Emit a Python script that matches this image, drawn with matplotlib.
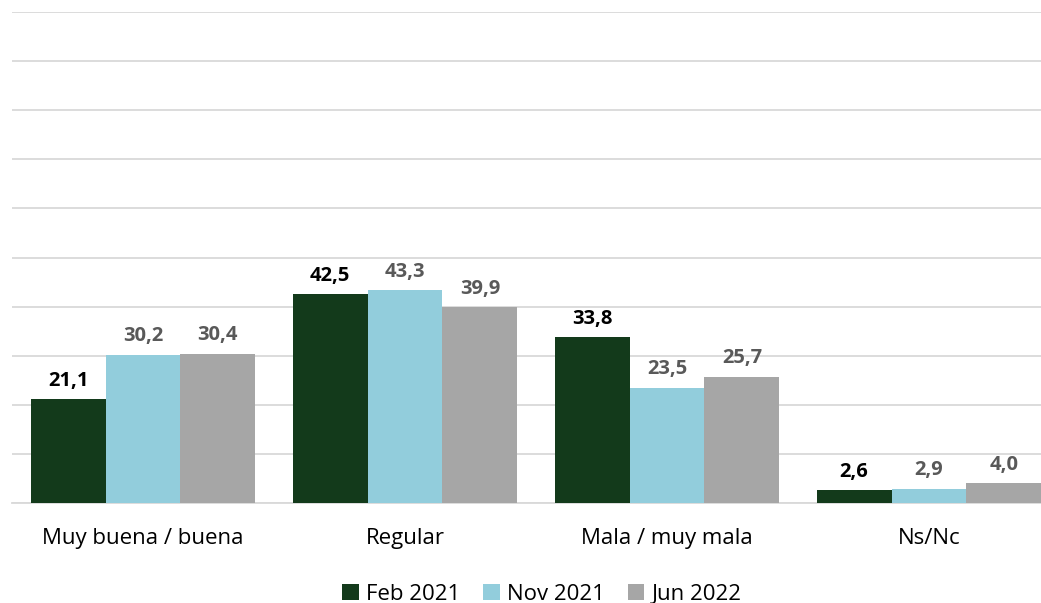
import matplotlib.pyplot as plt
import numpy as np

categories = ["Muy buena / buena", "Regular", "Mala / muy mala", "Ns/Nc"]
series_names = ["Feb 2021", "Nov 2021", "Jun 2022"]
feb_2021 = [21.1, 42.5, 33.8, 2.6]
nov_2021 = [30.2, 43.3, 23.5, 2.9]
jun_2022 = [30.4, 39.9, 25.7, 4.0]

colors = ["#133A1B", "#92CDDC", "#A6A6A6"]
label_colors = ["#000000", "#595959", "#595959"]

plt.rcParams["font.family"] = ["Open Sans", "DejaVu Sans"]

fig = plt.figure(figsize=(10.41, 6.03), dpi=100)
ax = fig.add_axes([12 / 1041, 100 / 603, 1048 / 1041, 491 / 603])

x = np.arange(len(categories))
w = 0.286
for i, (vals, name) in enumerate(zip([feb_2021, nov_2021, jun_2022], series_names)):
    bars = ax.bar(x + (i - 1) * w, vals, w, color=colors[i], label=name, zorder=3)
    for b, v in zip(bars, vals):
        ax.annotate(f"{v:.1f}".replace(".", ","), (b.get_x() + b.get_width() / 2, v),
                    xytext=(0, 6), textcoords="offset points", ha="center", va="bottom",
                    fontsize=14.5, fontweight="bold", color=label_colors[i])

ax.set_xlim(-0.5, 3.5)
ax.set_ylim(0, 100)
ax.set_yticks(np.arange(0, 101, 10))
ax.yaxis.grid(True, color="#D9D9D9", linewidth=1.3, zorder=0)
ax.tick_params(axis="y", left=False, labelleft=False)
ax.tick_params(axis="x", length=0, pad=18, labelsize=16)
ax.set_xticks(x)
ax.set_xticklabels(categories)
for s in ["top", "right", "left"]:
    ax.spines[s].set_visible(False)
ax.spines["bottom"].set_color("#D9D9D9")
ax.spines["bottom"].set_linewidth(1.3)

fig.legend(loc="center", bbox_to_anchor=(542 / 1041, 9 / 603), ncol=3, frameon=False,
           fontsize=16, handlelength=0.75, handleheight=0.75, handletextpad=0.35,
           columnspacing=1.0)

fig.savefig("out.png", dpi=100)
